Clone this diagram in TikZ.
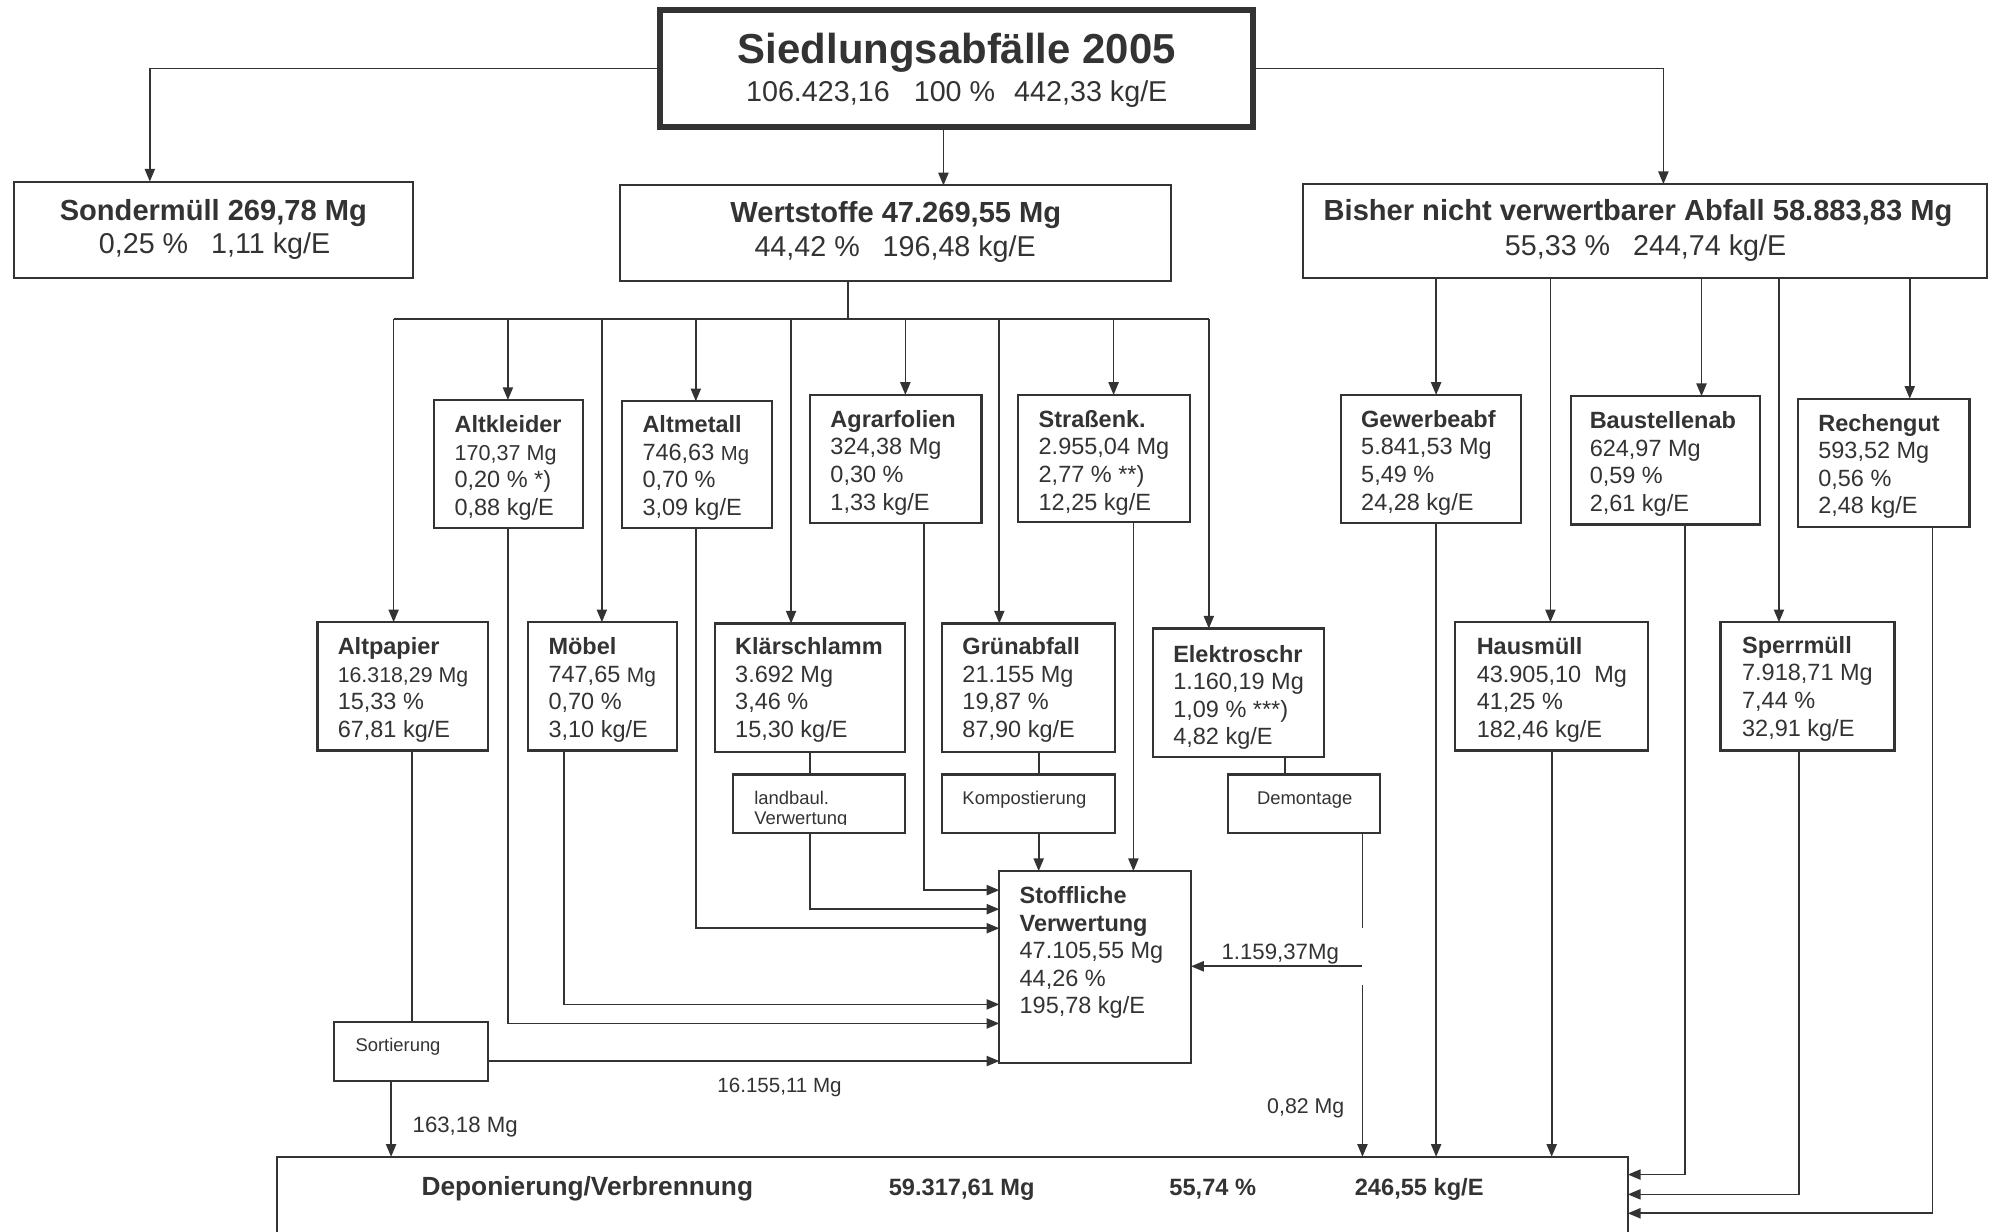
\documentclass[tikz,border=0pt]{standalone}
\usepackage{fontspec}
\setmainfont{Liberation Sans}
\usetikzlibrary{arrows.meta}
\definecolor{dk}{HTML}{333333}
\newcommand\fl{\rule{0pt}{14pt}}
\newcommand\bxx[5]{\node[bx, minimum width={#4pt-#2pt}, minimum height={#5pt-#3pt}] (#1) at (#2,#3) {};}
\begin{document}
\begin{tikzpicture}[x=1pt,y=-1pt,
 every node/.style={text=dk, inner sep=0pt, outer sep=0pt},
 bx/.style={draw=dk, line width=1.7pt, anchor=north west},
 ln/.style={draw=dk, line width=1.3pt},
 arr/.style={ln, -{Triangle[length=10pt,width=8pt]}},
 tx/.style={anchor=north west, align=left, font=\fontsize{18.5}{21.7}\selectfont},
 sm/.style={anchor=base west, font=\fontsize{14.5}{17}\selectfont},
 lbl/.style={anchor=base west, font=\fontsize{17.5}{20}\selectfont},
 hb/.style={anchor=base, font=\fontsize{22.9}{26}\selectfont\bfseries},
 hr/.style={anchor=base, font=\fontsize{22.6}{26}\selectfont},
 db/.style={anchor=base west, font=\fontsize{18.6}{22}\selectfont\bfseries}
]
\fill[white] (0,0) rectangle (1568,970);
\useasboundingbox (0,0) rectangle (1568,970);

% ---- top box
\node[draw=dk, line width=4.5pt, anchor=north west, minimum width=467pt, minimum height=92pt] (top) at (520,8) {};
\node[anchor=base, font=\fontsize{33}{36}\selectfont\bfseries] (topt) at (753.5,50) {Siedlungsabfälle 2005};
\node[hr] (topv) at (753.5,80) {106.423,16\hspace{19pt}100 \%\hspace{15pt}442,33 kg/E};

% ---- second row
\bxx{sonder}{11}{143}{325}{219}
\node[hb] (sondert) at (168,174) {Sondermüll 269,78 Mg};
\node[hr] (sonderv) at (169,200) {0,25 \%\hspace{18pt}1,11 kg/E};
\bxx{wert}{488}{146}{922}{221}
\node[hb] (wertt) at (705.5,175) {Wertstoffe 47.269,55 Mg};
\node[hr] (wertv) at (705,202) {44,42 \%\hspace{18pt}196,48 kg/E};
\bxx{bisher}{1026}{145}{1565}{219}
\node[hb] (bishert) at (1290,174) {Bisher nicht verwertbarer Abfall 58.883,83 Mg};
\node[hr] (bisherv) at (1296,201) {55,33 \%\hspace{18pt}244,74 kg/E};

% ---- third row boxes
\bxx{altkleider}{342}{315}{459}{416}
\node[tx] (altkleidert) at (358,326.6) {\fl\textbf{Altkleider}\\{\fontsize{17}{21.7}\selectfont 170,37 Mg}\\0,20 \% *)\\0,88 kg/E};
\bxx{altmetall}{490}{316}{608}{416}
\node[tx] (altmetallt) at (506,326.6) {\fl\textbf{Altmetall}\\746,63 {\fontsize{16}{21.7}\selectfont Mg}\\0,70 \%\\3,09 kg/E};
\bxx{agrar}{638}{311}{773}{412}
\node[tx] (agrart) at (654,322.6) {\fl\textbf{Agrarfolien}\\324,38 Mg\\0,30 \%\\1,33 kg/E};
\bxx{strassen}{802}{311}{937}{411}
\node[tx] (strassent) at (818,322.6) {\fl\textbf{Straßenk.}\\2.955,04 Mg\\2,77 \% **)\\12,25 kg/E};
\bxx{gewerbe}{1056}{311}{1198}{412}
\node[tx] (gewerbet) at (1072,322.6) {\fl\textbf{Gewerbeabf}\\5.841,53 Mg\\5,49 \%\\24,28 kg/E};
\bxx{baustelle}{1237}{312}{1386}{413}
\node[tx] (baustellet) at (1252,323.6) {\fl\textbf{Baustellenab}\\624,97 Mg\\0,59 \%\\2,61 kg/E};
\bxx{rechengut}{1416}{314}{1551}{415}
\node[tx] (rechengutt) at (1432,325.6) {\fl\textbf{Rechengut}\\593,52 Mg\\0,56 \%\\2,48 kg/E};

% ---- fourth row boxes
\bxx{altpapier}{250}{490}{384}{591}
\node[tx] (altpapiert) at (266,501.6) {\fl\textbf{Altpapier}\\{\fontsize{16.8}{21.7}\selectfont 16.318,29 Mg}\\15,33 \%\\67,81 kg/E};
\bxx{moebel}{416}{490}{533}{591}
\node[tx] (moebelt) at (432,501.6) {\fl\textbf{Möbel}\\747,65 {\fontsize{16.5}{21.7}\selectfont Mg}\\0,70 \%\\3,10 kg/E};
\bxx{klaer}{563}{491}{713}{592}
\node[tx] (klaert) at (579,501.6) {\fl\textbf{Klärschlamm}\\3.692 Mg\\3,46 \%\\15,30 kg/E};
\bxx{gruen}{742}{491}{878}{592}
\node[tx] (gruent) at (758,501.6) {\fl\textbf{Grünabfall}\\21.155 Mg\\19,87 \%\\87,90 kg/E};
\bxx{elektro}{908}{495}{1043}{596}
\node[tx] (elektrot) at (924,507.6) {\fl\textbf{Elektroschr}\\1.160,19 Mg\\1,09 \% ***)\\4,82 kg/E};
\bxx{hausmuell}{1146}{490}{1298}{591}
\node[tx] (hausmuellt) at (1163,501.6) {\fl\textbf{Hausmüll}\\43.905,10\ \ Mg\\41,25 \%\\182,46 kg/E};
\bxx{sperr}{1355}{490}{1492}{591}
\node[tx] (sperrt) at (1372,500.6) {\fl\textbf{Sperrmüll}\\7.918,71 Mg\\7,44 \%\\32,91 kg/E};

% ---- process boxes
\bxx{landbau}{577}{610}{713}{656}
\begin{scope}
\clip (578,611) rectangle (712,649.5);
\node[anchor=north west, align=left, font=\fontsize{14.5}{16.5}\selectfont] (landbaut) at (594,619.2) {\rule{0pt}{14pt}landbaul.\\Verwertung};
\end{scope}
\bxx{kompost}{742}{610}{878}{656}
\node[sm] (kompostt) at (758,633.2) {Kompostierung};
\bxx{demontage}{967}{610}{1087}{656}
\node[sm] (demontaget) at (990,633.2) {Demontage};
\bxx{sortierung}{263}{805}{384}{851}
\node[sm] (sortierungt) at (280,828.2) {Sortierung};

\bxx{stoff}{787}{686}{938}{837}
\node[tx] (stofft) at (803,697.6) {\fl\textbf{Stoffliche}\\\textbf{Verwertung}\\47.105,55 Mg\\44,26 \%\\195,78 kg/E};

\node[bx, minimum width=1064pt, minimum height=80pt] (depon) at (218,911) {};
\node[anchor=base west, font=\fontsize{20.7}{24}\selectfont\bfseries] (depont) at (332,941.4) {Deponierung/Verbrennung};
\node[db] (deponmg) at (700,941.4) {59.317,61 Mg};
\node[db] (deponp) at (921,941.4) {55,74 \%};
\node[db] (deponkg) at (1067,941.4) {246,55 kg/E};

% ---- flow labels
\node[lbl] (l1) at (962,755.5) {1.159,37Mg};
\node[anchor=base west, font=\fontsize{16.8}{20}\selectfont] (l2) at (998,877) {0,82 Mg};
\node[anchor=base west, font=\fontsize{16.2}{20}\selectfont] (l3) at (565,860) {16.155,11 Mg};
\node[lbl] (l4) at (325,891.5) {163,18 Mg};

% ---- connectors from the top box
\draw[arr] (top.west) -| (sonder.north -| 118,0);
\draw[arr] (top.east) -| (bisher.north -| 1310,0);
\draw[arr] (top.south -| 743,0) -- (wert.north -| 743,0);

% ---- Wertstoffe bus
\coordinate (wb) at (668,251);
\coordinate (busL) at (310,251);
\coordinate (busR) at (952,251);
\draw[ln] (wert.south -| wb) -- (wb);
\draw[ln] (busL) -- (busR);
\foreach \x/\n in {310/altpapier,400/altkleider,474/moebel,548/altmetall,623/klaer,713/agrar,787/gruen,877/strassen,952/elektro}
  \draw[arr] (\x,251) -- (\n.north -| \x,0);

% ---- Bisher drops
\foreach \x/\n in {1131/gewerbe,1221/hausmuell,1340/baustelle,1401/sperr,1504/rechengut}
  \draw[arr] (bisher.south -| \x,0) -- (\n.north -| \x,0);

% ---- into Stoffliche Verwertung
\draw[arr] (agrar.south -| 727.5,0) |- (stoff.west |- 0,701);
\draw[arr] (landbau.south -| 638,0) |- (stoff.west |- 0,716);
\draw[arr] (altmetall.south -| 548,0) |- (stoff.west |- 0,731);
\draw[arr] (moebel.south -| 444,0) |- (stoff.west |- 0,791);
\draw[arr] (altkleider.south -| 400,0) |- (stoff.west |- 0,806);
\draw[arr] (sortierung.east |- 0,835.6) -- (stoff.west |- 0,835.6);
\draw[ln] (klaer.south -| 638,0) -- (landbau.north -| 638,0);
\draw[ln] (gruen.south -| 818,0) -- (kompost.north -| 818,0);
\draw[arr] (kompost.south -| 818,0) -- (stoff.north -| 818,0);
\draw[arr] (strassen.south -| 892.6,0) -- (stoff.north -| 892.6,0);
\draw[ln] (elektro.south -| 1012,0) -- (demontage.north -| 1012,0);
\coordinate (dm1) at (1073,731);
\coordinate (dm2) at (1073,761);
\coordinate (dm3) at (1073,776);
\draw[ln] (demontage.south -| dm1) -- (dm1);
\draw[arr] (dm2) -- (stoff.east |- dm2);
\draw[arr] (dm3) -- (depon.north -| dm3);
\draw[ln] (altpapier.south -| 324.5,0) -- (sortierung.north -| 324.5,0);

% ---- into Deponierung/Verbrennung
\draw[arr] (sortierung.south -| 308,0) -- (depon.north -| 308,0);
\draw[arr] (gewerbe.south -| 1131,0) -- (depon.north -| 1131,0);
\draw[arr] (hausmuell.south -| 1222,0) -- (depon.north -| 1222,0);
\draw[arr] (baustelle.south -| 1327,0) |- (depon.east |- 0,925);
\draw[arr] (sperr.south -| 1417,0) |- (depon.east |- 0,940.6);
\draw[arr] (rechengut.south -| 1522,0) |- (depon.east |- 0,955.5);
\end{tikzpicture}
\end{document}
